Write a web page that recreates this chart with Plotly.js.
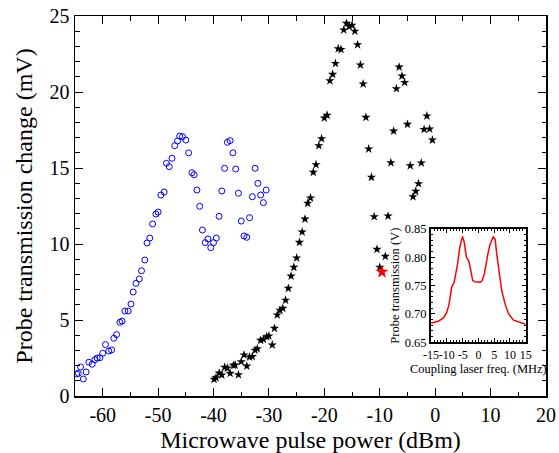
<!DOCTYPE html>
<html>
<head>
<meta charset="utf-8">
<script src="https://cdn.plot.ly/plotly-3.0.1.min.js"></script>
<style>html,body{margin:0;padding:0;background:#fff;}#chart{width:559px;height:453px;}</style>
</head>
<body>
<div id="chart"></div>
<script>
// Blue open circles
const blueX = [-64.7,-64.4,-64.0,-63.5,-63.0,-62.5,-61.9,-61.4,-61.0,-60.5,-60.0,-59.5,-58.9,-58.4,-58.0,-57.5,-56.9,-56.5,-56.0,-55.4,-54.9,-54.5,-54.0,-53.4,-53.0,-52.4,-52.0,-51.5,-51.0,-50.4,-50.0,-49.5,-48.9,-48.5,-48.0,-47.5,-47.0,-46.5,-46.1,-45.6,-45.0,-44.5,-43.9,-43.5,-43.0,-42.5,-42.0,-41.5,-41.0,-40.5,-40.0,-39.5,-39.0,-38.5,-38.0,-37.5,-37.0,-36.5,-36.0,-35.5,-35.0,-34.5,-34.0,-33.5,-33.0,-32.5,-32.0,-31.5,-31.0,-30.5];
const blueY = [1.45,1.49,1.91,1.12,1.58,2.22,2.09,2.39,2.50,2.52,2.81,3.38,2.96,3.03,3.80,4.04,4.85,4.93,5.59,5.59,6.05,6.84,7.41,7.70,8.24,8.95,10.07,10.39,11.32,11.97,12.10,13.22,13.42,15.31,15.09,15.64,16.47,16.78,17.10,17.06,16.84,16.00,14.69,14.56,13.55,12.48,10.92,10.09,10.33,9.76,10.09,10.39,11.82,13.49,14.98,16.69,16.80,16.00,14.93,13.34,11.51,10.53,10.44,11.73,13.11,14.98,13.99,13.22,12.72,13.55];

// Black stars
const blackX = [-39.9,-39.55,-38.96,-38.5,-38.0,-37.5,-37.0,-36.4,-36.1,-35.5,-35.0,-34.5,-34.0,-33.5,-33.0,-32.5,-32.1,-31.5,-31.0,-30.4,-30.0,-29.4,-29.0,-28.5,-28.0,-27.5,-27.0,-26.5,-26.0,-25.5,-25.0,-24.5,-24.0,-23.5,-23.0,-22.5,-22.0,-21.5,-21.0,-20.5,-20.0,-19.5,-19.0,-18.5,-18.0,-17.5,-17.0,-16.5,-16.0,-15.5,-15.0,-14.5,-14.0,-13.5,-13.0,-12.5,-12.0,-11.5,-11.0,-10.5,-10.0,-9.0,-8.5,-8.0,-7.5,-7.0,-6.5,-6.0,-5.5,-5.0,-4.5,-4.0,-3.5,-3.0,-2.5,-2.0,-1.5,-1.0,-0.5];
const blackY = [1.10,1.20,1.51,1.38,1.89,1.84,1.49,2.02,2.04,1.40,2.26,2.70,1.97,2.57,2.59,3.01,3.11,3.66,3.73,3.90,3.95,3.36,4.45,5.33,5.64,5.77,6.30,7.08,7.89,8.47,9.08,10.11,10.79,11.64,12.68,13.03,14.72,15.22,16.47,16.93,18.29,18.47,20.74,21.16,21.88,22.85,22.80,24.08,24.52,24.30,24.39,24.00,23.11,21.78,20.53,18.33,16.25,14.39,11.80,9.65,8.47,9.19,11.84,15.35,17.43,20.22,21.64,21.05,20.63,17.87,15.15,13.11,13.47,13.97,15.33,17.54,18.42,17.57,16.84];

// Red highlighted point
const redX = [-9.6];
const redY = [8.16];

// Inset spectrum
const insetFreq = [-15,-12.7,-11.1,-10.1,-9.3,-8.5,-7.7,-6.6,-5.9,-5.05,-4.5,-3.8,-3.0,-2.4,-1.8,-1.1,0.5,1.1,1.9,3.0,3.7,4.7,5.3,5.8,6.6,7.4,8.5,9.5,11.1,12.7,15];
const insetTrans = [0.684,0.687,0.693,0.702,0.717,0.747,0.756,0.788,0.818,0.837,0.827,0.800,0.793,0.777,0.759,0.757,0.756,0.758,0.771,0.806,0.823,0.836,0.832,0.806,0.771,0.741,0.717,0.701,0.689,0.686,0.682];

// Tick labels
const mainXTicks = [-60,-50,-40,-30,-20,-10,0,10,20];
const mainXLabels = ['-60','-50','-40','-30','-20','-10','0','10','20'];
const mainYTicks = [0,5,10,15,20,25];
const mainYLabels = ['0','5','10','15','20','25'];
const insetXTicks = [-15,-10,-5,0,5,10,15];
const insetXLabels = ['-15','-10','-5','0','5','10','15'];
const insetYTicks = [0.65,0.70,0.75,0.80,0.85];
const insetYLabels = ['0.65','0.70','0.75','0.80','0.85'];

const serif = 'Liberation Serif, Times New Roman, serif';

const traces = [
  {x: blueX, y: blueY, type: 'scatter', mode: 'markers', xaxis: 'x', yaxis: 'y',
   marker: {symbol: 'circle-open', size: 6, color: '#0000ff', line: {width: 1, color: '#0000ff'}}},
  {x: blackX, y: blackY, type: 'scatter', mode: 'markers', xaxis: 'x', yaxis: 'y',
   marker: {symbol: 'star', size: 7, color: '#000000', line: {width: 0}}},
  {x: redX, y: redY, type: 'scatter', mode: 'markers', xaxis: 'x', yaxis: 'y',
   marker: {symbol: 'star', size: 10, color: '#ff0000', line: {width: 0}}},
  {x: insetFreq, y: insetTrans, type: 'scatter', mode: 'lines', xaxis: 'x2', yaxis: 'y2',
   line: {color: '#ff0000', width: 1.5}}
];

const axCommon = {
  showline: true, linecolor: '#000', mirror: 'allticks', showgrid: false, zeroline: false,
  ticks: 'inside', tickcolor: '#000', tickmode: 'array'
};

const layout = {
  width: 559, height: 453,
  margin: {l: 75, r: 13, t: 16, b: 57},
  paper_bgcolor: '#fff', plot_bgcolor: '#fff',
  showlegend: false,
  font: {family: serif, color: '#000'},
  xaxis: Object.assign({}, axCommon, {
    range: [-65, 20], tickvals: mainXTicks, ticktext: mainXLabels, ticklen: 8, tickwidth: 1, linewidth: 1.5,
    minor: {tick0: 0, dtick: 5, ticklen: 4.5, ticks: 'inside', tickcolor: '#000'},
    tickfont: {family: serif, size: 20},
    title: {text: 'Microwave pulse power (dBm)', font: {family: serif, size: 24}, standoff: 8}
  }),
  yaxis: Object.assign({}, axCommon, {
    range: [0, 25], tickvals: mainYTicks, ticktext: mainYLabels, ticklen: 8, tickwidth: 1, linewidth: 1.5,
    minor: {tick0: 0, dtick: 1, ticklen: 4.5, ticks: 'inside', tickcolor: '#000'},
    tickfont: {family: serif, size: 20},
    title: {text: 'Probe transmission change (mV)', font: {family: serif, size: 24}, standoff: 10}
  }),
  xaxis2: Object.assign({}, axCommon, {
    domain: [0.756, 0.957], anchor: 'y2', range: [-15, 15], tickvals: insetXTicks, ticktext: insetXLabels, tickangle: 0,
    ticklen: 4, tickwidth: 1, linewidth: 2,
    minor: {tick0: 0, dtick: 1, ticklen: 2, ticks: 'inside', tickcolor: '#000'},
    tickfont: {family: serif, size: 12},
    title: {text: 'Coupling laser freq. (MHz)', font: {family: serif, size: 12.5}, standoff: 2}
  }),
  yaxis2: Object.assign({}, axCommon, {
    domain: [0.1413, 0.4395], anchor: 'x2', range: [0.65, 0.85], tickvals: insetYTicks, ticktext: insetYLabels,
    ticklen: 4, tickwidth: 1, linewidth: 2,
    minor: {tick0: 0.65, dtick: 0.01, ticklen: 2, ticks: 'inside', tickcolor: '#000'},
    tickfont: {family: serif, size: 12.5},
    title: {text: 'Probe transmission (V)', font: {family: serif, size: 12.5}, standoff: 2}
  })
};

Plotly.newPlot('chart', traces, layout, {staticPlot: true, displayModeBar: false});
</script>
</body>
</html>
